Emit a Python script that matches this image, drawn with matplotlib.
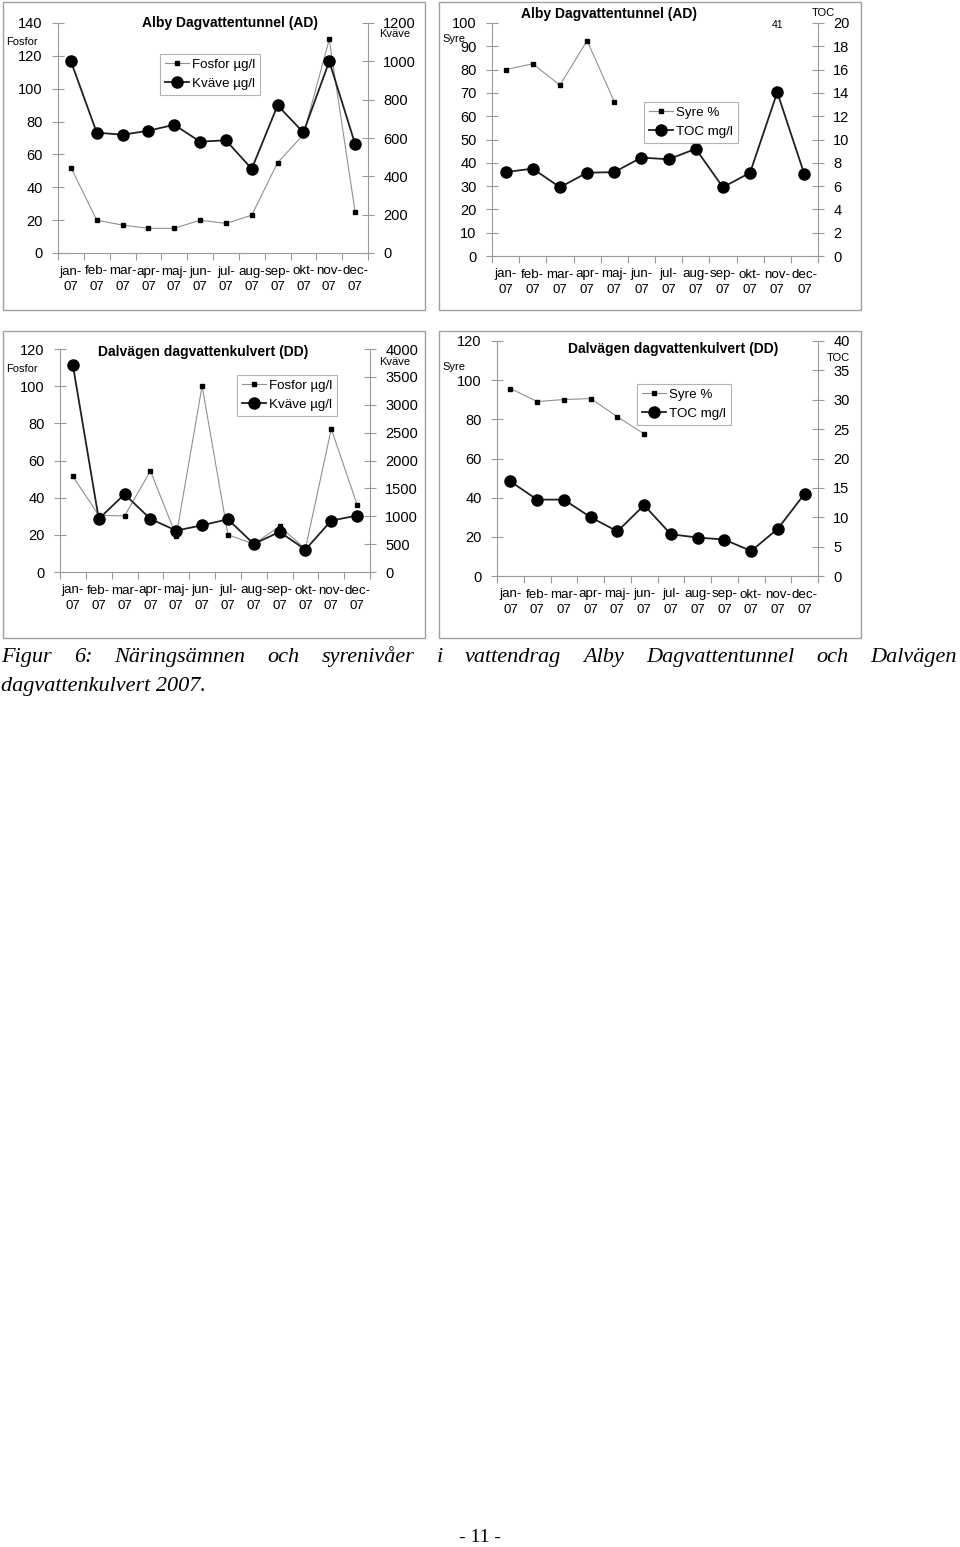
import numpy as np
import matplotlib
matplotlib.use("Agg")
import matplotlib.pyplot as plt
from matplotlib.patches import Rectangle

plt.rcParams['font.family'] = ['Liberation Sans', 'DejaVu Sans']

months = ["jan-\n07", "feb-\n07", "mar-\n07", "apr-\n07", "maj-\n07", "jun-\n07",
          "jul-\n07", "aug-\n07", "sep-\n07", "okt-\n07", "nov-\n07", "dec-\n07"]

# Alby Dagvattentunnel (AD)
ad_fosfor = [52, 20, 17, 15, 15, 20, 18, 23, 55, 72, 130, 25]
ad_kvave = [1000, 628, 617, 638, 669, 581, 588, 439, 770, 629, 1000, 569]
ad_syre = [80, 82.5, 73.3, 92.4, 66.3, np.nan, np.nan, np.nan, np.nan, np.nan, np.nan, np.nan]
ad_toc = [7.2, 7.5, 5.9, 7.15, 7.2, 8.45, 8.3, 9.2, 5.9, 7.15, 14.05, 7.0]

# Dalvägen dagvattenkulvert (DD)
dd_fosfor = [51.4, 30.5, 30.2, 54.4, 19.4, 100.2, 20.1, 15, 24.6, 12.4, 77, 36.3]
dd_kvave = [3707, 952, 1395, 952, 743, 838, 946, 503, 719, 401, 922, 1012]
dd_syre = [95.7, 89.1, 90.1, 90.6, 81.3, 72.6, np.nan, np.nan, np.nan, np.nan, np.nan, np.nan]
dd_toc = [16.1, 13.0, 13.0, 10.0, 7.6, 12.05, 7.1, 6.55, 6.2, 4.25, 8.05, 14.0]

caption1 = "Figur 6: Näringsämnen och syrenivåer i vattendrag Alby Dagvattentunnel och Dalvägen"
caption2 = "dagvattenkulvert 2007."

W, H = 960, 1547
fig = plt.figure(figsize=(W / 100, H / 100), dpi=100)

def rect(l, r, top, bottom):
    return [l / W, 1 - bottom / H, (r - l) / W, (bottom - top) / H]

def fx(x):
    return x / W

def fy(y):
    return 1 - y / H

GRAY = '#9a9a9a'
FS = 10.5
XFS = 9.6
LFS = 9.6

def panel(box, axpix, title, titlexy, y1lim, y1ticks, y2lim, y2ticks,
          s1, s2, lab1, lab2, leg_xy, l1xy, l1txt, l2xy, l2txt):
    bl, br, bt, bb = box
    fig.patches.append(Rectangle((fx(bl), fy(bb)), (br - bl) / W, (bb - bt) / H,
                                 transform=fig.transFigure, fill=False,
                                 edgecolor='#a0a0a0', linewidth=1.0))
    ax = fig.add_axes(rect(*axpix))
    ax2 = ax.twinx()
    x = np.arange(12)
    ax.plot(x, s1, color='#909090', linewidth=0.8, marker='s', markersize=3.2,
            markerfacecolor='black', markeredgecolor='black', label=lab1)
    ax2.plot(x, s2, color='#202020', linewidth=1.3, marker='o', markersize=8,
             markerfacecolor='black', markeredgecolor='black', label=lab2)
    ax.set_xlim(-0.5, 11.5)
    ax.set_ylim(*y1lim)
    ax2.set_ylim(*y2lim)
    ax.set_yticks(y1ticks)
    ax2.set_yticks(y2ticks)
    ax.set_xticks(np.arange(-0.5, 12, 1))
    ax.set_xticklabels([])
    ax.set_xticks(x, minor=True)
    ax.set_xticklabels(months, minor=True, fontsize=XFS, linespacing=1.4)
    ax.tick_params(axis='x', which='major', length=5, direction='out', color=GRAY)
    ax.tick_params(axis='x', which='minor', length=0, pad=9)
    ax.tick_params(axis='y', length=8, direction='inout', color=GRAY, labelsize=FS, pad=7)
    ax2.tick_params(axis='y', length=8, direction='inout', color=GRAY, labelsize=FS, pad=7)
    for a in (ax, ax2):
        a.patch.set_visible(False)
        a.spines['top'].set_visible(False)
        for s in ('left', 'right', 'bottom'):
            a.spines[s].set_color(GRAY)
            a.spines[s].set_linewidth(0.8)
    ax.spines['right'].set_visible(False)
    ax2.spines['left'].set_visible(False)
    ax2.spines['bottom'].set_visible(False)
    fig.text(fx(titlexy[0]), fy(titlexy[1]), title, ha='center', va='center',
             fontsize=10, fontweight='bold')
    fig.text(fx(l1xy[0]), fy(l1xy[1]), l1txt, ha='center', va='center', fontsize=8)
    fig.text(fx(l2xy[0]), fy(l2xy[1]), l2txt, ha='center', va='center', fontsize=8)
    h1, la1 = ax.get_legend_handles_labels()
    h2, la2 = ax2.get_legend_handles_labels()
    leg = fig.legend(h1 + h2, la1 + la2, loc='upper left',
                     bbox_to_anchor=(fx(leg_xy[0]), fy(leg_xy[1])),
                     fontsize=LFS, frameon=True, fancybox=False, handlelength=1.8,
                     handletextpad=0.25, borderpad=0.35, labelspacing=0.5,
                     borderaxespad=0)
    leg.get_frame().set_edgecolor('#a0a0a0')
    leg.get_frame().set_linewidth(0.8)
    return ax, ax2

panel((3, 425, 2, 310), (58, 368, 23, 253), "Alby Dagvattentunnel (AD)", (230, 23),
      (0, 140), range(0, 141, 20), (0, 1200), range(0, 1201, 200),
      ad_fosfor, ad_kvave, "Fosfor µg/l", "Kväve µg/l", (160, 54),
      (22, 42), "Fosfor", (395, 34), "Kväve")

panel((439, 861, 2, 310), (492, 818, 23, 256), "Alby Dagvattentunnel (AD)", (609, 14),
      (0, 100), range(0, 101, 10), (0, 20), range(0, 21, 2),
      ad_syre, ad_toc, "Syre %", "TOC mg/l", (644, 102),
      (454, 39), "Syre", (823, 13), "TOC")
fig.text(fx(778), fy(25), "41", ha='center', va='center', fontsize=7.5)

panel((3, 425, 331, 638), (60, 370, 349, 572), "Dalvägen dagvattenkulvert (DD)", (203, 352),
      (0, 120), range(0, 121, 20), (0, 4000), range(0, 4001, 500),
      dd_fosfor, dd_kvave, "Fosfor µg/l", "Kväve µg/l", (237, 375),
      (22, 369), "Fosfor", (395, 362), "Kväve")

panel((439, 861, 331, 638), (497, 818, 341, 576), "Dalvägen dagvattenkulvert (DD)", (673, 349),
      (0, 120), range(0, 121, 20), (0, 40), range(0, 41, 5),
      dd_syre, dd_toc, "Syre %", "TOC mg/l", (637, 384),
      (454, 367), "Syre", (838, 358), "TOC")

# justified caption line 1
renderer = fig.canvas.get_renderer()
words = caption1.split(" ")
texts = []
widths = []
for w_ in words:
    t = fig.text(0, fy(657), w_, ha='left', va='center', fontsize=16,
                 style='italic', family='Liberation Serif')
    texts.append(t)
    widths.append(t.get_window_extent(renderer).width)
left_px, right_px = 1, 957
gap = (right_px - left_px - sum(widths)) / (len(words) - 1)
xpos = left_px
for t, wd in zip(texts, widths):
    t.set_x(fx(xpos))
    xpos += wd + gap

fig.text(fx(1), fy(686), caption2, ha='left', va='center', fontsize=16,
         style='italic', family='Liberation Serif')
fig.text(fx(480), fy(1538), "- 11 -", ha='center', va='center', fontsize=14,
         family='Liberation Serif')

fig.savefig("out.png", dpi=100)
